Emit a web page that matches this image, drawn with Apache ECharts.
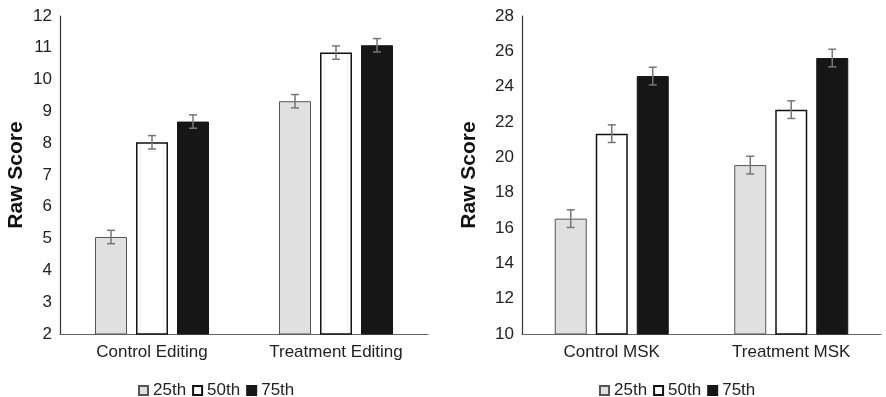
<!DOCTYPE html>
<html><head><meta charset="utf-8">
<script src="https://cdn.jsdelivr.net/npm/echarts@6/dist/echarts.min.js"></script>
<style>html,body{margin:0;padding:0;background:#fff}#c{width:886px;height:397px}</style>
</head><body><div id="c"></div>
<script>
const seriesNames = ['25th', '50th', '75th'];
const catsLeft = ['Control Editing', 'Treatment Editing'];
const catsRight = ['Control MSK', 'Treatment MSK'];
// values per percentile series: [control, treatment]
const left25 = [5.05, 9.32];
const left50 = [8.03, 10.85];
const left75 = [8.68, 11.08];
const leftErr25 = [0.21, 0.21];
const leftErr50 = [0.21, 0.21];
const leftErr75 = [0.21, 0.21];
const right25 = [16.53, 19.56];
const right50 = [21.34, 22.7];
const right75 = [24.6, 25.62];
const rightErr25 = [0.5, 0.5];
const rightErr50 = [0.5, 0.5];
const rightErr75 = [0.5, 0.5];

const FONT = 'Liberation Sans, Arial, sans-serif';
const BAR_W = 32, BAR_GAP_PX = 9;
const styles = [
  {color: '#e0e0e0', borderColor: '#555', borderWidth: 1},
  {color: '#ffffff', borderColor: '#111', borderWidth: 1.5},
  {color: '#161616', borderColor: '#161616', borderWidth: 1}
];

function barSeries(idx, vals, name) {
  return {
    type: 'bar', name: name, xAxisIndex: idx, yAxisIndex: idx,
    data: vals, barWidth: BAR_W, barGap: (BAR_GAP_PX / BAR_W * 100) + '%',
    itemStyle: styles[seriesNames.indexOf(name)], emphasis: {disabled: true}
  };
}
function errSeries(idx, vals, errs, k) {
  const offset = (k - 1) * (BAR_W + BAR_GAP_PX);
  return {
    type: 'custom', xAxisIndex: idx, yAxisIndex: idx, z: 5, silent: true,
    data: vals.map((v, i) => [i, v, errs[i]]),
    renderItem: function (params, api) {
      const c = api.value(0), v = api.value(1), e = api.value(2);
      const top = api.coord([c, v + e]);
      const bot = api.coord([c, v - e]);
      const x = top[0] + offset;
      const s = {stroke: '#777', lineWidth: 1.5};
      return {type: 'group', children: [
        {type: 'line', shape: {x1: x, y1: top[1], x2: x, y2: bot[1]}, style: s},
        {type: 'line', shape: {x1: x - 4, y1: top[1], x2: x + 4, y2: top[1]}, style: s},
        {type: 'line', shape: {x1: x - 4, y1: bot[1], x2: x + 4, y2: bot[1]}, style: s}
      ]};
    }
  };
}
function xAxis(idx, cats) {
  return {type: 'category', gridIndex: idx, data: cats,
    axisLine: {lineStyle: {color: '#666', width: 1.2}}, axisTick: {show: false},
    axisLabel: {color: '#222', fontSize: 17, fontFamily: FONT, margin: 10}};
}
function yAxis(idx, min, max, interval, gap) {
  return {type: 'value', gridIndex: idx, min: min, max: max, interval: interval,
    name: 'Raw Score', nameLocation: 'middle', nameGap: gap,
    nameTextStyle: {fontSize: 21, fontWeight: 'bold', color: '#111', fontFamily: FONT},
    axisLine: {show: true, lineStyle: {color: '#333', width: 1.2}}, axisTick: {show: false},
    splitLine: {show: false},
    axisLabel: {color: '#222', fontSize: 17, fontFamily: FONT, margin: 8}};
}
function legend(left) {
  return {left: left, top: 377, itemWidth: 9, itemHeight: 9, itemGap: 6, icon: 'rect',
    selectedMode: false, data: seriesNames,
    textStyle: {fontSize: 17, color: '#222', fontFamily: FONT}};
}

const chart = echarts.init(document.getElementById('c'), null, {renderer: 'canvas'});
chart.setOption({
  animation: false,
  backgroundColor: '#fff',
  grid: [
    {left: 60, top: 16, width: 368, height: 318},
    {left: 522, top: 16, width: 359, height: 318}
  ],
  xAxis: [xAxis(0, catsLeft), xAxis(1, catsRight)],
  yAxis: [yAxis(0, 2, 12, 1, 33), yAxis(1, 10, 28, 2, 42)],
  legend: [legend(133), legend(594)],
  series: [
    barSeries(0, left25, '25th'), barSeries(0, left50, '50th'), barSeries(0, left75, '75th'),
    barSeries(1, right25, '25th'), barSeries(1, right50, '50th'), barSeries(1, right75, '75th'),
    errSeries(0, left25, leftErr25, 0), errSeries(0, left50, leftErr50, 1), errSeries(0, left75, leftErr75, 2),
    errSeries(1, right25, rightErr25, 0), errSeries(1, right50, rightErr50, 1), errSeries(1, right75, rightErr75, 2)
  ]
});
</script></body></html>
